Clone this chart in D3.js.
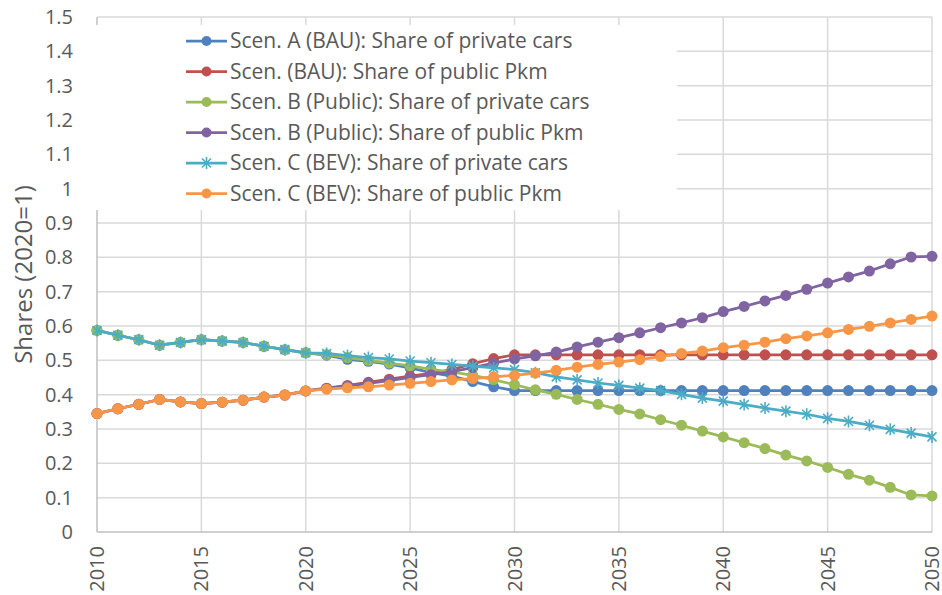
<!DOCTYPE html>
<html>
<head>
<meta charset="utf-8">
<script src="https://cdn.jsdelivr.net/npm/d3@7"></script>
<style>
	body { margin: 0; background: #fff; }
	text { font-family: "Open Sans", sans-serif; fill: #595959; }
</style>
</head>
<body>
<div id="chart"></div>
<script>

// years on the x axis
var years = [2010, 2011, 2012, 2013, 2014, 2015, 2016, 2017, 2018, 2019, 2020,
	2021, 2022, 2023, 2024, 2025, 2026, 2027, 2028, 2029, 2030,
	2031, 2032, 2033, 2034, 2035, 2036, 2037, 2038, 2039, 2040,
	2041, 2042, 2043, 2044, 2045, 2046, 2047, 2048, 2049, 2050];

var xTicks = [2010, 2015, 2020, 2025, 2030, 2035, 2040, 2045, 2050];
var yTicks = [0, 0.1, 0.2, 0.3, 0.4, 0.5, 0.6, 0.7, 0.8, 0.9, 1, 1.1, 1.2, 1.3, 1.4, 1.5];

var seriesNames = [
	"Scen. A (BAU): Share of private cars",
	"Scen. (BAU): Share of public Pkm",
	"Scen. B (Public): Share of private cars",
	"Scen. B (Public): Share of public Pkm",
	"Scen. C (BEV): Share of private cars",
	"Scen. C (BEV): Share of public Pkm"
];

var aPrivate = [0.587, 0.573, 0.560, 0.544, 0.552, 0.560, 0.556, 0.552, 0.541, 0.531, 0.522,
	0.515, 0.503, 0.497, 0.489, 0.478, 0.464, 0.454, 0.438, 0.423, 0.412,
	0.412, 0.412, 0.412, 0.412, 0.412, 0.412, 0.412, 0.412, 0.412, 0.412,
	0.412, 0.412, 0.412, 0.412, 0.412, 0.412, 0.412, 0.412, 0.412, 0.412];

var aPublic = [0.345, 0.359, 0.372, 0.386, 0.379, 0.374, 0.378, 0.384, 0.393, 0.399, 0.411,
	0.419, 0.427, 0.436, 0.445, 0.454, 0.462, 0.473, 0.490, 0.505, 0.516,
	0.516, 0.516, 0.516, 0.516, 0.516, 0.516, 0.516, 0.516, 0.516, 0.516,
	0.516, 0.516, 0.516, 0.516, 0.516, 0.516, 0.516, 0.516, 0.516, 0.516];

var bPrivate = [0.587, 0.573, 0.560, 0.544, 0.552, 0.560, 0.556, 0.552, 0.541, 0.531, 0.522,
	0.517, 0.508, 0.500, 0.492, 0.484, 0.474, 0.466, 0.456, 0.444, 0.429,
	0.414, 0.401, 0.386, 0.372, 0.357, 0.344, 0.327, 0.311, 0.294, 0.277,
	0.260, 0.243, 0.224, 0.207, 0.188, 0.168, 0.151, 0.130, 0.108, 0.105];

var bPublic = [0.345, 0.359, 0.372, 0.386, 0.379, 0.374, 0.378, 0.384, 0.393, 0.399, 0.411,
	0.418, 0.425, 0.433, 0.441, 0.450, 0.458, 0.467, 0.479, 0.492, 0.504,
	0.513, 0.524, 0.539, 0.553, 0.566, 0.580, 0.595, 0.609, 0.624, 0.642,
	0.657, 0.673, 0.689, 0.707, 0.725, 0.743, 0.760, 0.781, 0.801, 0.803];

var cPrivate = [0.587, 0.573, 0.560, 0.544, 0.552, 0.560, 0.556, 0.552, 0.541, 0.531, 0.522,
	0.520, 0.514, 0.508, 0.504, 0.498, 0.493, 0.488, 0.483, 0.478, 0.473,
	0.464, 0.452, 0.443, 0.434, 0.427, 0.419, 0.412, 0.401, 0.390, 0.381,
	0.371, 0.361, 0.352, 0.343, 0.331, 0.322, 0.311, 0.299, 0.288, 0.277];

var cPublic = [0.345, 0.359, 0.372, 0.386, 0.379, 0.374, 0.378, 0.384, 0.393, 0.399, 0.411,
	0.416, 0.420, 0.423, 0.428, 0.433, 0.438, 0.443, 0.447, 0.452, 0.456,
	0.463, 0.471, 0.480, 0.488, 0.495, 0.502, 0.511, 0.520, 0.527, 0.537,
	0.544, 0.553, 0.563, 0.571, 0.580, 0.590, 0.599, 0.609, 0.619, 0.629];

function main(){

	var width = 942,
		height = 595;

	var colors = ["#4F81BD", "#C0504D", "#9BBB59", "#8064A2", "#4BACC6", "#F79646"];
	var markers = ["circle", "circle", "circle", "circle", "star", "circle"];
	var allValues = [aPrivate, aPublic, bPrivate, bPublic, cPrivate, cPublic];

	var series = seriesNames.map(function(name, i){
		return {
			name: name,
			color: colors[i],
			marker: markers[i],
			values: years.map(function(yr, j){ return {year: yr, value: allValues[i][j]}; })
		};
	});

	var svg = d3.select("#chart").append("svg")
		.attr("width", width)
		.attr("height", height);

	var x = d3.scaleLinear().domain([2010, 2050]).range([97, 932]);
	var y = d3.scaleLinear().domain([0, 1.5]).range([532, 17]);

	// grid
	svg.append("g").selectAll("line.h")
		.data(yTicks.filter(function(d){ return d > 0; }))
		.enter().append("line")
		.attr("x1", x(2010)).attr("x2", x(2050))
		.attr("y1", function(d){ return y(d); })
		.attr("y2", function(d){ return y(d); })
		.attr("stroke", "#d9d9d9")
		.attr("stroke-width", 1.5);

	svg.append("g").selectAll("line.v")
		.data(xTicks.filter(function(d){ return d > 2010; }))
		.enter().append("line")
		.attr("x1", function(d){ return x(d); })
		.attr("x2", function(d){ return x(d); })
		.attr("y1", y(0)).attr("y2", y(1.5))
		.attr("stroke", "#d9d9d9")
		.attr("stroke-width", 1.5);

	// axes lines
	svg.append("line")
		.attr("x1", x(2010)).attr("x2", x(2050))
		.attr("y1", y(0)).attr("y2", y(0))
		.attr("stroke", "#bfbfbf").attr("stroke-width", 1.5);
	svg.append("line")
		.attr("x1", x(2010)).attr("x2", x(2010))
		.attr("y1", y(0)).attr("y2", y(1.5))
		.attr("stroke", "#bfbfbf").attr("stroke-width", 1.5);

	// y axis labels
	var yAxis = d3.axisLeft(y).tickValues(yTicks).tickSize(0).tickPadding(0)
		.tickFormat(function(d){ return String(d); });
	var gy = svg.append("g").attr("transform", "translate(73,0)").call(yAxis);
	gy.select(".domain").remove();
	gy.selectAll("text").attr("font-size", "20px").attr("fill", "#595959")
		.style("font-family", "'Open Sans', sans-serif");

	// x axis labels, rotated
	svg.append("g").selectAll("text.xl")
		.data(xTicks)
		.enter().append("text")
		.attr("transform", function(d){ return "translate(" + (x(d) + 7) + ",546) rotate(-90)"; })
		.attr("text-anchor", "end")
		.attr("font-size", "20px")
		.text(function(d){ return d; });

	// y title
	svg.append("text")
		.attr("transform", "translate(32," + ((y(0) + y(1.5)) / 2) + ") rotate(-90)")
		.attr("text-anchor", "middle")
		.attr("font-size", "24px")
		.text("Shares (2020=1)");

	// legend background hides the grid behind it
	svg.append("rect")
		.attr("x", 88).attr("y", 25)
		.attr("width", 589).attr("height", 185)
		.attr("fill", "#fff");

	var line = d3.line()
		.x(function(d){ return x(d.year); })
		.y(function(d){ return y(d.value); });

	var starPath = "M-4.5,-4.5L4.5,4.5M-4.5,4.5L4.5,-4.5M0,-6L0,6";

	function drawMarker(g, s, cx, cy, r){
		if (s.marker == "star") {
			g.append("path")
				.attr("transform", "translate(" + cx + "," + cy + ")")
				.attr("d", starPath)
				.attr("stroke", s.color)
				.attr("stroke-width", 1.6)
				.attr("fill", "none");
		} else {
			g.append("circle")
				.attr("cx", cx).attr("cy", cy).attr("r", r)
				.attr("fill", s.color);
		}
	}

	series.forEach(function(s){
		var g = svg.append("g");
		g.append("path")
			.datum(s.values)
			.attr("d", line)
			.attr("fill", "none")
			.attr("stroke", s.color)
			.attr("stroke-width", 2.75)
			.attr("stroke-linejoin", "round");
		s.values.forEach(function(d){
			drawMarker(g, s, x(d.year), y(d.value), 5.5);
		});
	});

	// legend
	series.forEach(function(s, i){
		var ly = 41 + i * 30.5;
		var g = svg.append("g");
		g.append("line")
			.attr("x1", 186).attr("x2", 227)
			.attr("y1", ly).attr("y2", ly)
			.attr("stroke", s.color)
			.attr("stroke-width", 2.75);
		drawMarker(g, s, 206.5, ly, 5);
		g.append("text")
			.attr("x", 230).attr("y", ly)
			.attr("dy", "0.35em")
			.attr("font-size", "21px")
			.text(s.name);
	});
}

main();
</script>
</body>
</html>
